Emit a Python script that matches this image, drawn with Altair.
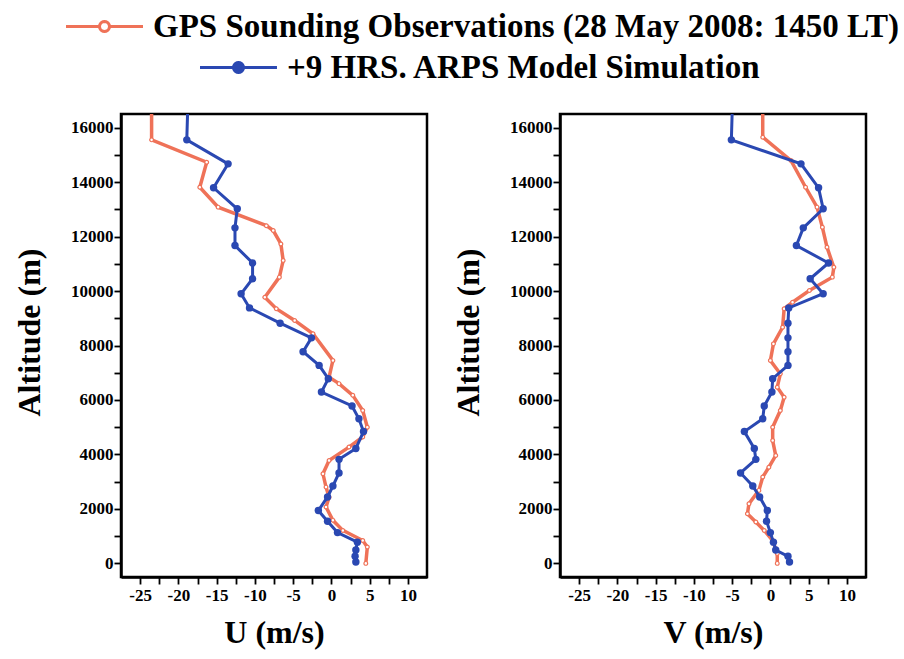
import math
import altair as alt
import pandas as pd

obs_label = "GPS Sounding Observations (28 May 2008: 1450 LT)"
model_label = "+9 HRS. ARPS Model Simulation"

# ARPS model levels (m) and winds (m/s)
model_alt = [16500, 15550, 14670, 13790, 13020, 12320, 11670, 11030, 10450, 9900,
             9380, 8820, 8280, 7770, 7270, 6780, 6290, 5780, 5310, 4840, 4220,
             3820, 3320, 2840, 2440, 1940, 1550, 1130, 780, 490, 260, 50]
model_u = [-18.8, -18.9, -13.5, -15.4, -12.3, -12.6, -12.6, -10.3, -10.3, -11.8,
           -10.7, -6.7, -2.6, -3.7, -1.6, -0.4, -1.3, 2.7, 3.6, 4.2, 3.2,
           1.0, 1.0, 0.2, -0.5, -1.7, -0.5, 0.8, 3.4, 3.2, 3.1, 3.2]
model_v = [-5.0, -5.1, 4.0, 6.3, 6.9, 4.3, 3.4, 7.6, 5.2, 6.9,
           2.4, 2.3, 2.3, 2.3, 2.3, 0.3, 0.2, -0.8, -1.0, -3.4, -2.1,
           -1.9, -3.9, -2.3, -1.4, -0.4, -0.5, 0.0, 0.4, 0.7, 2.3, 2.5]

# GPS sounding observations
obs_u_alt = [16500, 15550, 14730, 13810, 13080, 12400, 12220, 11730, 11120, 10510,
             9770, 9350, 8920, 8430, 7450, 6840, 6600, 6170, 5610, 5000, 4640,
             4270, 3780, 3290, 2800, 2430, 2070, 1580, 1210, 840, 600, 0]
obs_u = [-23.5, -23.5, -16.3, -17.2, -14.8, -8.5, -7.6, -6.6, -6.3, -6.8,
         -8.7, -7.2, -4.8, -2.4, 0.2, -0.3, 1.0, 2.8, 4.1, 4.7, 4.1,
         2.3, -0.3, -1.1, -0.7, -0.3, -0.7, 0.2, 1.5, 4.1, 4.7, 4.5]
obs_v_alt = [16500, 15650, 14790, 13810, 13080, 12340, 11610, 10870, 10510, 10020,
             9590, 9350, 8670, 8060, 7450, 6960, 6470, 6100, 5610, 5000, 4510,
             3960, 3530, 3170, 2680, 2190, 1820, 1520, 1210, 840, 360, 0]
obs_v = [-1.0, -1.0, 2.7, 4.6, 6.1, 6.8, 7.4, 8.3, 8.1, 5.1,
         2.9, 1.8, 1.6, 0.4, 0.0, 1.3, 0.9, 1.8, 1.3, 0.3, 0.3,
         0.7, -0.2, -1.0, -1.5, -2.8, -3.0, -1.9, -0.8, 0.3, 0.9, 0.9]

x_ticks = [-25 + 2.5 * i for i in range(15)]
y_ticks = list(range(0, 16001, 1000))

RED = "#ef7258"
BLUE = "#2a48b2"
FONT = "Liberation Serif"


def legend_symbol(r=0.52, half=4.0, n=20):
    pts = []
    for k in range(n):
        a = 2 * math.pi * k / n
        pts.append(f"{r * math.cos(a):.3f},{r * math.sin(a):.3f}")
    return f"M{-half},0L{-r},0M{r},0L{half},0M" + "L".join(pts) + "Z"


SYMBOL = legend_symbol()


def make_legend(lx, ly, fill):
    return alt.Legend(
        orient="none", legendX=lx, legendY=ly, title=None,
        symbolType=SYMBOL, symbolSize=370, symbolStrokeWidth=3,
        symbolFillColor=fill, symbolOpacity=1,
        labelFont=FONT, labelFontWeight="bold", labelFontSize=33,
        labelColor="black", labelLimit=1000, labelOffset=32, padding=0,
    )


def panel(o_alt, o_val, m_alt, m_val, xtitle, with_legend):
    df_o = pd.DataFrame({"alt": o_alt, "val": o_val, "series": obs_label})
    df_m = pd.DataFrame({"alt": m_alt, "val": m_val, "series": model_label})
    x = alt.X("val:Q", scale=alt.Scale(domain=[-27.5, 12.5], nice=False, zero=False),
              axis=alt.Axis(title=xtitle, values=x_ticks,
                            labelExpr="datum.value % 5 == 0 ? '' + datum.value : ''",
                            titlePadding=14, labelPadding=3))
    y = alt.Y("alt:Q", scale=alt.Scale(domain=[-500, 16500], nice=False, zero=False),
              axis=alt.Axis(title="Altitude (m)", values=y_ticks,
                            labelExpr="datum.value % 2000 == 0 ? '' + datum.value : ''",
                            titlePadding=24, labelPadding=1, titleY=218))
    order = alt.Order("alt:Q")
    if with_legend:
        ocol = alt.Color("series:N", scale=alt.Scale(domain=[obs_label], range=[RED]),
                         legend=make_legend(-33, -104, "white"))
        mcol = alt.Stroke("series:N", scale=alt.Scale(domain=[model_label], range=[BLUE]),
                          legend=make_legend(101, -63, BLUE))
        obs_line = alt.Chart(df_o).mark_line(strokeWidth=3.5, clip=True).encode(
            x=x, y=y, order=order, color=ocol)
        mod_line = alt.Chart(df_m).mark_line(strokeWidth=3, clip=True).encode(
            x=x, y=y, order=order, stroke=mcol)
    else:
        obs_line = alt.Chart(df_o).mark_line(strokeWidth=3.5, clip=True, color=RED).encode(
            x=x, y=y, order=order)
        mod_line = alt.Chart(df_m).mark_line(strokeWidth=3, clip=True, color=BLUE).encode(
            x=x, y=y, order=order)
    obs_pts = alt.Chart(df_o).transform_filter("datum.alt < 16400").mark_point(
        filled=True, fill="white", stroke=RED, strokeWidth=1.2, size=14, opacity=1
    ).encode(x=x, y=y)
    mod_pts = alt.Chart(df_m).transform_filter("datum.alt < 16400").mark_point(
        filled=True, color=BLUE, size=55, opacity=1
    ).encode(x=x, y=y)
    return alt.layer(obs_line, obs_pts, mod_line, mod_pts).properties(width=306, height=463)


left = panel(obs_u_alt, obs_u, model_alt, model_u, "U (m/s)", True)
right = panel(obs_v_alt, obs_v, model_alt, model_v, "V (m/s)", False)

chart = alt.hconcat(left, right, spacing=22).properties(
    padding={"left": 12, "top": 10, "right": 5, "bottom": 5},
    background="white",
).configure_view(
    stroke="black", strokeWidth=2.5
).configure_axis(
    grid=False, domainColor="black", domainWidth=2.5, tickColor="black",
    tickWidth=1.8, tickSize=7, labelFont=FONT, labelFontWeight="bold",
    labelFontSize=17, labelColor="black", titleFont=FONT, titleFontSize=32,
    titleFontWeight="bold", titleColor="black",
)

chart.save("out.html", embed_options={"renderer": "svg", "actions": False})
